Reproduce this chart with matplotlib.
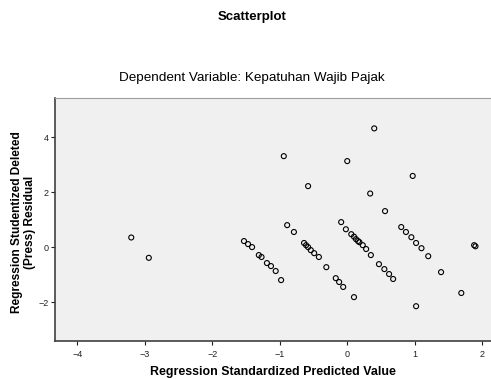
import numpy as np
import matplotlib.pyplot as plt

plt.rcParams['font.family'] = ['Liberation Sans', 'DejaVu Sans']

# residual points (predicted value, deleted residual)
pred = [0.40, -0.94, 0.00, 0.97, -0.58, 0.34, 0.56, -3.20, -2.94,
        # band 1
        -1.53, -1.47, -1.41, -1.31, -1.27, -1.19, -1.13, -1.06, -0.98,
        # band 2
        -0.89, -0.79, -0.64, -0.61, -0.58, -0.54, -0.49, -0.42, -0.31,
        -0.17, -0.12, -0.06, 0.10,
        # band 3
        -0.09, -0.02, 0.06, 0.10, 0.13, 0.16, 0.18, 0.23, 0.28, 0.35,
        0.47, 0.55, 0.62, 0.68,
        # band 4
        0.80, 0.87, 0.95, 1.02, 1.10, 1.20, 1.39, 1.69, 1.02, 1.88, 1.90]
resid = [4.32, 3.31, 3.13, 2.59, 2.22, 1.95, 1.31, 0.35, -0.39,
         0.22, 0.11, 0.00, -0.29, -0.36, -0.58, -0.69, -0.87, -1.20,
         0.80, 0.55, 0.15, 0.07, 0.00, -0.11, -0.22, -0.36, -0.73,
         -1.13, -1.27, -1.45, -1.82,
         0.91, 0.65, 0.47, 0.38, 0.29, 0.22, 0.18, 0.07, -0.07, -0.29,
         -0.62, -0.80, -0.98, -1.16,
         0.73, 0.55, 0.36, 0.15, -0.04, -0.33, -0.91, -1.67, -2.15, 0.07, 0.03]

xticks = [-4, -3, -2, -1, 0, 1, 2]
yticks = [-2, 0, 2, 4]

fig = plt.figure(figsize=(4.91, 3.79), dpi=100)
ax = fig.add_axes([0.112, 0.100, 0.888, 0.641])
ax.set_facecolor('#f0f0f0')

ax.scatter(pred, resid, s=13, facecolors='none', edgecolors='black', linewidths=0.8)

ax.set_xlim(-4.33, 2.13)
ax.set_ylim(-3.42, 5.42)
ax.set_xticks(xticks)
ax.set_yticks(yticks)
ax.tick_params(labelsize=6.5, length=3, width=0.8, colors='#202020')
ax.tick_params(axis='y', pad=1.5)

for side in ['left', 'bottom']:
    ax.spines[side].set_color('#404040')
    ax.spines[side].set_linewidth(1.2)
ax.spines['top'].set_color('#a0a0a0')
ax.spines['right'].set_visible(False)

ax.set_xlabel('Regression Standardized Predicted Value', fontsize=8.9, fontweight='bold', labelpad=5)
ax.set_ylabel('Regression Studentized Deleted\n(Press) Residual', fontsize=8.6, fontweight='bold',
              linespacing=1.1)
ax.yaxis.set_label_coords(-0.043, 0.49)

fig.text(0.513, 0.955, 'Scatterplot', ha='center', va='center', fontsize=9.5, fontweight='bold')
fig.text(0.513, 0.795, 'Dependent Variable: Kepatuhan Wajib Pajak', ha='center', va='center', fontsize=9.7)

fig.savefig('out.png', dpi=100)
